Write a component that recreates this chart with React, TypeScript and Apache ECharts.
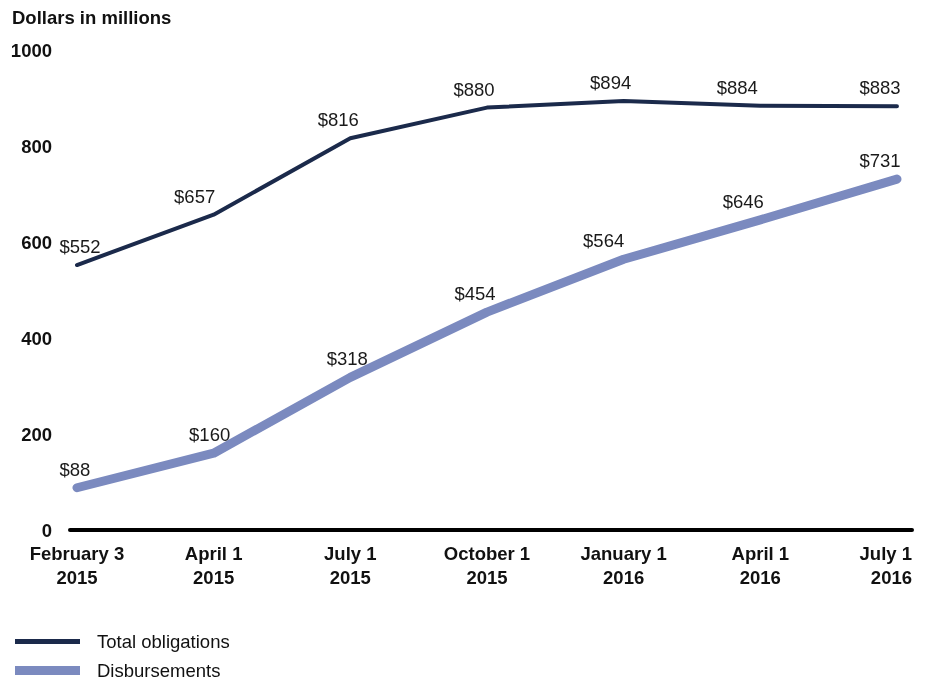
import React, { useEffect, useRef } from "react";
import * as echarts from "echarts";

const categories = ["February 3\n2015", "April 1\n2015", "July 1\n2015", "October 1\n2015", "January 1\n2016", "April 1\n2016", "July 1\n2016"];
const totalObligations = [552, 657, 816, 880, 894, 884, 883];
const disbursements = [88, 160, 318, 454, 564, 646, 731];
const yTicks = [0, 200, 400, 600, 800, 1000];

// label horizontal nudges (style only)
const totalLabelDx = [3, -19, -12, -13, -13, -23, -17];
const disbLabelDx = [-2, -4, -3, -12, -20, -17, -17];

const FONT = "'Liberation Sans', Arial, sans-serif";
const DARK = "#1b2a4b";
const LIGHT = "#7b8abf";
const FS = 18.5;
const X_MIN = -0.051;
const X_MAX = 6.11;

export default function App() {
  const ref = useRef<HTMLDivElement>(null);
  useEffect(() => {
    if (!ref.current) return;
    const chart = echarts.init(ref.current, undefined, { renderer: "svg" });
    // tick-label anchors: one per category; the last one sits at the axis end, right-aligned
    const labelAnchors = categories.map((_, i) => (i === categories.length - 1 ? X_MAX : i));
    const label = {
      show: true,
      position: "top",
      distance: 9,
      fontFamily: FONT,
      fontSize: FS,
      color: "#1a1a1a",
      formatter: (p: any) => "$" + p.value[1],
    };
    const build = (vals: number[], dx: number[]) =>
      vals.map((v, i) => ({ value: [i, v], label: { offset: [dx[i], 0] } }));
    chart.setOption({
      animation: false,
      textStyle: { fontFamily: FONT },
      title: {
        text: "Dollars in millions",
        left: 12,
        top: 8,
        padding: 0,
        textStyle: { fontFamily: FONT, fontSize: FS, fontWeight: "bold", color: "#111" },
      },
      grid: { left: 70, right: 17, top: 50, bottom: 150, containLabel: false },
      xAxis: {
        type: "value",
        min: X_MIN,
        max: X_MAX,
        axisLine: { show: true, onZero: false, lineStyle: { color: "#000", width: 4 } },
        axisTick: { show: false },
        splitLine: { show: false },
        axisLabel: {
          customValues: labelAnchors,
          formatter: (v: number) => categories[Math.min(categories.length - 1, Math.round(v))] ?? "",
          fontFamily: FONT,
          fontSize: FS,
          fontWeight: "bold",
          color: "#111",
          lineHeight: 24,
          margin: 11,
          align: "center",
          alignMaxLabel: "right",
        },
      },
      yAxis: {
        type: "value",
        min: 0,
        max: 1000,
        interval: 200,
        axisLine: { show: false },
        axisTick: { show: false },
        splitLine: { show: false },
        axisLabel: {
          customValues: yTicks,
          formatter: (v: number) => String(v),
          fontFamily: FONT,
          fontSize: FS,
          fontWeight: "bold",
          color: "#111",
          margin: 18,
        },
      },
      legend: [
        {
          data: ["Total obligations"],
          left: 15,
          top: 632,
          padding: 0,
          icon: "rect",
          itemWidth: 65,
          itemHeight: 5,
          textStyle: { fontFamily: FONT, fontSize: FS, lineHeight: 16, color: "#111", padding: [0, 0, 0, 12] },
        },
        {
          data: ["Disbursements"],
          left: 15,
          top: 661,
          padding: 0,
          icon: "rect",
          itemWidth: 65,
          itemHeight: 9,
          textStyle: { fontFamily: FONT, fontSize: FS, lineHeight: 16, color: "#111", padding: [0, 0, 0, 12] },
        },
      ],
      series: [
        {
          name: "Total obligations",
          type: "line",
          data: build(totalObligations, totalLabelDx),
          symbol: "circle",
          symbolSize: 0,
          showSymbol: true,
          color: DARK,
          lineStyle: { color: DARK, width: 4, cap: "round", join: "round" },
          label,
        },
        {
          name: "Disbursements",
          type: "line",
          data: build(disbursements, disbLabelDx),
          symbol: "circle",
          symbolSize: 0,
          showSymbol: true,
          color: LIGHT,
          lineStyle: { color: LIGHT, width: 9, cap: "round", join: "round" },
          label,
        },
      ],
    });
    return () => chart.dispose();
  }, []);
  return <div ref={ref} style={{ width: 929, height: 680, position: "fixed", left: 0, top: 0 }} />;
}
